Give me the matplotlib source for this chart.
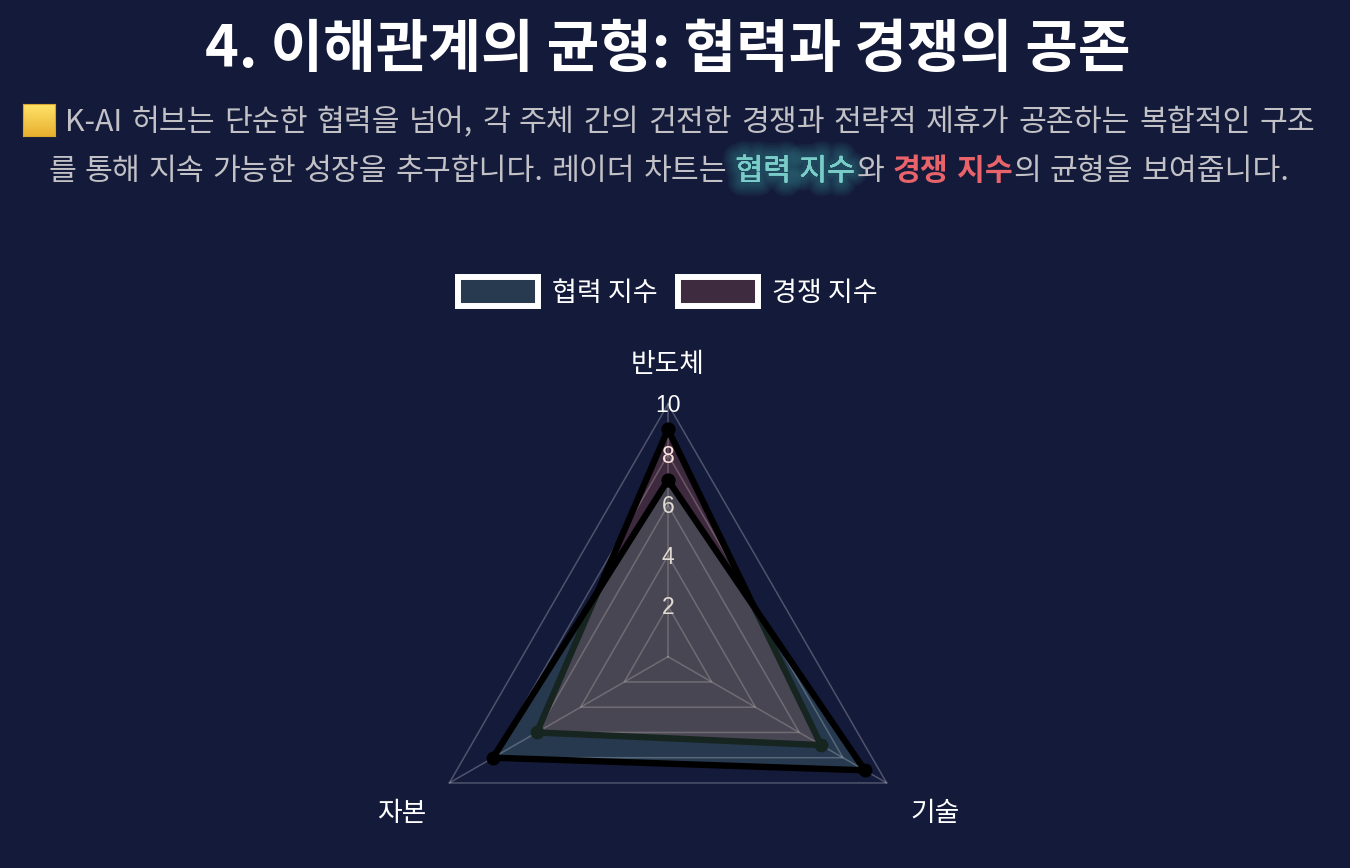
import numpy as np
import matplotlib
matplotlib.use('Agg')
import matplotlib.pyplot as plt
import matplotlib.patheffects as pe
from matplotlib.patches import Patch

plt.rcParams['font.family'] = ['Noto Sans CJK KR', 'DejaVu Sans']

# Data
categories = ['반도체', '기술', '자본']
cooperation = [7, 9, 8]
competition = [9, 7, 6]
r_ticks = [2, 4, 6, 8, 10]
series_names = ['협력 지수', '경쟁 지수']

title = '4. 이해관계의 균형: 협력과 경쟁의 공존'
line1 = 'K-AI 허브는 단순한 협력을 넘어, 각 주체 간의 건전한 경쟁과 전략적 제휴가 공존하는 복합적인 구조'
line2 = [('를 통해 지속 가능한 성장을 추구합니다. 레이더 차트는', 'plain'), ('협력 지수', 'teal'),
         ('와', 'plain'), ('경쟁 지수', 'red'), ('의 균형을 보여줍니다.', 'plain')]

W, H = 1350, 868
BG = '#141a3a'
GREY = '#c2c2c6'
TEAL = '#7accc8'
RED = '#e8646a'
BLUE_FILL = '#78baa8'
PINK_FILL = '#eb6e55'
SUB_SIZE = 21.8

fig = plt.figure(figsize=(W / 100, H / 100), dpi=100, facecolor=BG)
renderer = fig.canvas.get_renderer()


def put_words(x, y, text, gap, effects=None, **kw):
    # noto's space is narrower than the original font's, so place word by word
    for i, word in enumerate(text.split(' ')):
        if i:
            x += gap
        t = fig.text(x / W, 1 - y / H, word, fontsize=SUB_SIZE, ha='left', va='baseline', **kw)
        x += t.get_window_extent(renderer).width + 1.5
        if effects:
            t.set_path_effects(effects)
    return x


# Header
fig.text(668 / W, 1 - 50 / H, title, color='white', fontsize=41.2, fontweight='bold',
         ha='center', va='center')
put_words(65, 131, line1, 7.45, color=GREY)

# Emoji square, drawn as a small gradient
emoji = fig.add_axes([23 / W, 1 - 136 / H, 32 / W, 32 / H])
emoji.imshow(np.linspace(0, 1, 32).reshape(-1, 1),
             cmap=matplotlib.colors.LinearSegmentedColormap.from_list('gold', ['#ffe468', '#e8b030']),
             aspect='auto')
emoji.set_xticks([])
emoji.set_yticks([])
for s in emoji.spines.values():
    s.set_color('#d9a62e')
    s.set_linewidth(0.8)

# Second line has coloured runs, so lay them out one after the other
glow = [pe.withStroke(linewidth=lw, foreground='#4ecdc4', alpha=0.05)
        for lw in (20, 17, 14, 11, 8, 5)] + [pe.Normal()]
GAP2 = 6.7
x = 48.0
x = put_words(x, 180, line2[0][0], GAP2, color=GREY) + GAP2
x = put_words(x, 180, line2[1][0], GAP2, effects=glow, color=TEAL, fontweight='medium')
x = put_words(x, 180, line2[2][0], GAP2, color=GREY) + GAP2
x = put_words(x, 180, line2[3][0], GAP2, color=RED, fontweight='bold')
put_words(x, 180, line2[4][0], GAP2, color=GREY)

# Radar
cx, cy, radius = 668, 656.7, 252.5
ax = fig.add_axes([(cx - radius) / W, 1 - (cy + radius) / H, 2 * radius / W, 2 * radius / H],
                  projection='polar')
ax.set_theta_zero_location('N')
ax.set_theta_direction(-1)
ax.set_ylim(0, 10)
ax.set_xticks([])
ax.set_yticks([])
ax.grid(False)
ax.spines['polar'].set_visible(False)
ax.patch.set_alpha(0)

theta = np.deg2rad([0, 120, 240])
closed = np.append(theta, theta[0])

for r in r_ticks:
    ax.plot(closed, [r] * 4, color='white', alpha=0.25, lw=1.1, zorder=1, clip_on=False)
for th in theta:
    ax.plot([th, th], [0, 10], color='white', alpha=0.25, lw=1.1, zorder=1, clip_on=False)

for r in r_ticks:
    ax.text(0, r + 0.04, str(r), color='white', fontsize=16.5, family='Liberation Sans',
            ha='center', va='center_baseline', zorder=2)

for vals, fill, z in [(competition, PINK_FILL, 3), (cooperation, BLUE_FILL, 4)]:
    v = vals + vals[:1]
    ax.fill(closed, v, color=fill, alpha=0.2, lw=0, zorder=z, clip_on=False)
    ax.plot(closed, v, color='black', lw=4.6, marker='o', ms=10, mew=0,
            solid_joinstyle='miter', zorder=z + 0.1, clip_on=False)

label_r = [11.7, 12.2, 12.2]
for th, name, r in zip(theta, categories, label_r):
    ax.text(th, r, name, color='white', fontsize=19.3, ha='center', va='center_baseline', clip_on=False)

# Legend, swatches carry the blended fill colour
handles = [Patch(facecolor='#283a50', edgecolor='white', lw=4.3, joinstyle='miter'),
           Patch(facecolor='#3f2b3f', edgecolor='white', lw=4.3, joinstyle='miter')]
fig.legend(handles, series_names, loc='center', bbox_to_anchor=(667.5 / W, 1 - 292 / H),
           ncol=2, frameon=False, fontsize=19.5, labelcolor='white',
           handlelength=2.96, handleheight=1.22, handletextpad=0.5, columnspacing=0.76)

fig.savefig('out.png', dpi=100, facecolor=BG)
